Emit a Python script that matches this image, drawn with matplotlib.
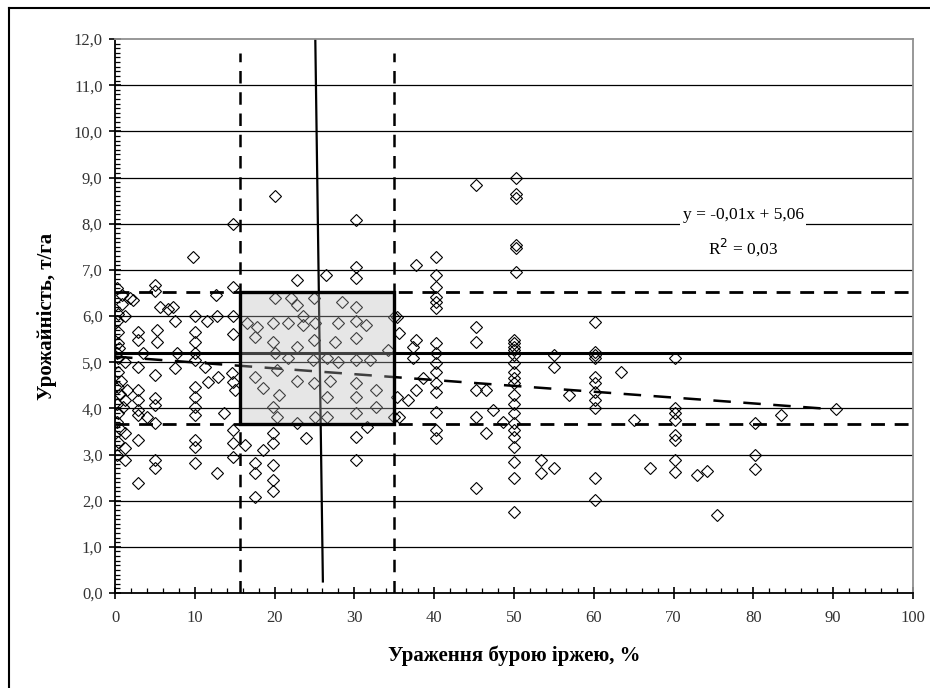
import matplotlib
matplotlib.use("Agg")
import matplotlib.pyplot as plt
from matplotlib.lines import Line2D
from matplotlib.patches import Rectangle
from matplotlib.ticker import MultipleLocator, FuncFormatter

# ---------------- data ----------------
# low infection (0..15 %)
x_low = [0.4, 0.9, 0.9, 1.9, 1.3, 0.4, 0.4, 0.4, 1.3, 0.4, 0.4, 1.5, 1.3, 0.4, 1.0,
         1.3, 0.4, 1.3, 1.3, 0.3, 0.6, 0.2, 0.3, 0.2, 0.5, 0.7, 0.3, 0.6, 0.2,
         2.9, 2.9, 2.9, 2.9, 2.9, 2.9, 4.0, 2.9, 2.9, 2.2, 2.9, 3.5,
         5.0, 5.0, 5.7, 5.3, 5.3, 5.0, 5.0, 5.0, 5.0, 5.0, 5.0,
         7.3, 7.5, 7.8, 7.5, 6.7,
         9.8, 10.0, 10.0, 10.0, 10.0, 10.0, 10.0, 10.0, 10.0, 10.0, 10.0, 10.0, 10.0, 11.3, 11.5,
         12.6, 12.8, 12.9, 11.7, 13.6, 12.8,
         14.8, 14.8, 14.8, 14.8, 14.7, 14.8, 15.0, 14.8, 14.8, 14.8, 16.3]
y_low = [6.05, 6.27, 6.45, 6.40, 6.00, 5.65, 5.41, 5.08, 5.00, 4.78, 4.46, 4.40, 4.18, 3.90, 4.03,
         3.46, 3.27, 3.14, 2.88, 5.20, 4.30, 3.70, 6.60, 5.90, 5.30, 4.60, 4.10, 3.55, 3.00,
         5.65, 5.48, 4.40, 4.18, 3.96, 3.85, 3.81, 3.31, 2.38, 6.35, 4.90, 5.20,
         6.67, 6.54, 6.20, 5.70, 5.43, 4.72, 4.22, 4.07, 3.68, 2.88, 2.70,
         6.20, 5.90, 5.19, 4.87, 6.15,
         7.27, 6.00, 5.65, 5.43, 5.19, 5.04, 4.46, 4.24, 4.03, 3.85, 3.31, 3.16, 2.81, 4.90, 5.90,
         6.45, 6.00, 4.68, 4.57, 3.90, 2.60,
         8.00, 6.62, 6.00, 5.60, 4.76, 4.57, 4.40, 3.53, 3.25, 2.95, 3.20]

# medium infection (15..35 %)
x_mid = [20.1, 30.2, 26.4, 30.2, 30.2, 22.8,
         20.1, 22.0, 24.9, 28.5, 30.2, 22.8, 23.5, 16.6, 17.8, 19.8, 21.7, 23.5, 25.1, 27.9,
         30.2, 31.4, 34.9, 17.6, 19.8, 22.8, 24.9, 27.6, 30.2, 20.1, 21.7, 24.8, 26.6, 28.0,
         30.2, 32.0, 34.2, 17.6, 20.3, 18.5, 20.5, 22.8, 24.9, 27.0, 26.6, 30.2, 30.2, 32.7,
         32.7, 19.8, 20.3, 22.8, 25.1, 26.6, 30.2, 31.6, 34.9,
         19.8, 19.8, 23.9, 30.2, 30.2, 17.6, 19.8, 17.6, 19.8, 19.8, 17.6, 18.5]
y_mid = [8.60, 8.07, 6.88, 7.06, 6.82, 6.77,
         6.40, 6.40, 6.40, 6.30, 6.20, 6.23, 6.00, 5.84, 5.76, 5.84, 5.84, 5.80, 5.84, 5.84,
         5.90, 5.80, 5.97, 5.55, 5.43, 5.33, 5.48, 5.43, 5.52, 5.19, 5.08, 5.04, 5.10, 5.00,
         5.04, 5.04, 5.26, 4.68, 4.83, 4.44, 4.29, 4.60, 4.54, 4.60, 4.24, 4.54, 4.24, 4.40,
         4.03, 4.03, 3.81, 3.68, 3.81, 3.81, 3.90, 3.60, 3.81,
         3.46, 3.25, 3.35, 3.38, 2.88, 2.81, 2.77, 2.60, 2.45, 2.20, 2.08, 3.10]

# high infection (> 35 %)
x_high = [45.2, 50.3, 50.3, 50.3, 50.3, 50.3, 50.3, 37.7, 40.2, 40.2, 40.2, 40.2, 40.2, 40.2,
          45.2, 45.2, 35.4, 35.6, 37.7, 37.3, 37.3, 40.2, 40.2, 40.2, 40.2, 40.2, 40.2,
          38.6, 37.7, 36.7, 35.4, 35.6, 40.2, 40.2, 40.2, 45.2, 46.5, 45.2, 46.5, 47.4, 48.6, 45.2,
          50.0, 50.0, 50.0, 50.0, 50.0, 50.0, 50.0, 50.0, 50.0, 50.0, 50.0, 50.0, 50.0, 50.0,
          50.0, 50.0, 50.0, 50.0, 50.0,
          55.0, 55.0, 56.9, 53.4, 53.4, 55.0,
          60.2, 60.2, 60.2, 60.2, 70.2, 63.4, 60.2, 60.2, 60.2, 60.2, 60.2, 65.1,
          70.2, 70.2, 70.2, 70.2, 70.2, 70.2, 70.2, 67.0, 72.9, 74.2, 75.4,
          80.2, 80.2, 80.2, 83.5, 90.3, 60.2, 60.2]
y_high = [8.83, 8.98, 8.65, 8.55, 7.53, 7.47, 6.95, 7.10, 7.27, 6.88, 6.62, 6.41, 6.30, 6.17,
          5.76, 5.43, 5.97, 5.63, 5.48, 5.33, 5.08, 5.41, 5.19, 4.98, 4.78, 4.54, 4.35,
          4.65, 4.40, 4.18, 4.24, 3.81, 3.92, 3.53, 3.35, 4.40, 4.40, 3.81, 3.46, 3.96, 3.70, 2.27,
          5.48, 5.41, 5.33, 5.26, 5.15, 4.98, 4.78, 4.65, 4.54, 4.29, 4.10, 3.90, 3.68, 3.53,
          3.38, 3.16, 2.84, 2.49, 1.75,
          5.15, 4.90, 4.29, 2.88, 2.60, 2.70,
          5.87, 5.22, 5.15, 5.08, 5.10, 4.78, 4.68, 4.54, 4.35, 4.18, 4.00, 3.74,
          4.00, 3.90, 3.74, 3.42, 3.31, 2.88, 2.62, 2.70, 2.55, 2.64, 1.69,
          3.68, 2.99, 2.68, 3.85, 3.98, 2.49, 2.01]

# reference levels
yield_mean = 5.2
yield_upper = 6.53
yield_lower = 3.66
rust_lower = 15.7
rust_upper = 35.0
rust_line_x = [25.1, 26.05]
rust_line_y = [12.0, 0.25]
trend_slope = -0.01267
trend_intercept = 5.12
trend_x_range = [0.0, 90.0]
trend_label = "y = -0,01x + 5,06"
r2_label = "R$^{2}$ = 0,03"
x_label = "Ураження бурою іржею, %"
y_label = "Урожайність, т/га"

# ---------------- plotting ----------------
plt.rcParams['font.family'] = ['Liberation Serif', 'DejaVu Serif']
fig = plt.figure(figsize=(9.3, 6.88), dpi=100)
ax = fig.add_axes([115/930, 1 - 593/688, (913-115)/930, (593-39)/688])

ax.set_xlim(0, 100)
ax.set_ylim(0, 12)

# horizontal gridlines
for g in range(1, 12):
    ax.axhline(g, color='black', lw=0.9, zorder=1)

xs = x_low + x_mid + x_high
ys = y_low + y_mid + y_high
ax.plot(xs, ys, linestyle='none', marker='D', markersize=6.5,
        markerfacecolor='none', markeredgecolor='black', markeredgewidth=0.8, zorder=3)

# reference lines
ax.axhline(yield_mean, color='black', lw=2.2, zorder=2)
ax.axhline(yield_upper, color='black', lw=2.0, ls=(0, (5, 3.5)), zorder=2)
ax.axhline(yield_lower, color='black', lw=2.0, ls=(0, (5, 3.5)), zorder=2)
ax.plot([rust_lower, rust_lower], [0, 11.7], color='black', lw=1.8, ls=(0, (5, 3.5)), zorder=2)
ax.plot([rust_upper, rust_upper], [0, 11.7], color='black', lw=1.8, ls=(0, (5, 3.5)), zorder=2)
ax.plot(rust_line_x, rust_line_y, color='black', lw=1.6, zorder=2)

# trend line
tx = trend_x_range
ty = [trend_slope * v + trend_intercept for v in tx]
ax.plot(tx, ty, color='black', lw=1.8, ls=(0, (7, 5)), zorder=2)

# central rectangle
ax.add_patch(Rectangle((rust_lower, yield_lower), rust_upper - rust_lower,
                       yield_upper - yield_lower, facecolor='#b8b8b8', alpha=0.35,
                       edgecolor='none', zorder=4))
ax.add_patch(Rectangle((rust_lower, yield_lower), rust_upper - rust_lower,
                       yield_upper - yield_lower, facecolor='none',
                       edgecolor='black', lw=2.4, zorder=5))

# trend equation
ax.text(78.7, 8.18, trend_label, ha='center', va='center', fontsize=12.5,
        bbox=dict(facecolor='white', edgecolor='none', pad=2), zorder=6)
ax.text(78.7, 7.5, r2_label, ha='center', va='center', fontsize=12.5, zorder=6)

# axes styling
for side in ['left', 'bottom']:
    ax.spines[side].set_linewidth(1.3)
    ax.spines[side].set_color('black')
for side in ['top', 'right']:
    ax.spines[side].set_linewidth(1.3)
    ax.spines[side].set_color('#909090')

ax.xaxis.set_major_locator(MultipleLocator(10))
ax.xaxis.set_minor_locator(MultipleLocator(2))
ax.yaxis.set_major_locator(MultipleLocator(1))
ax.yaxis.set_minor_locator(MultipleLocator(0.1))
ax.yaxis.set_major_formatter(FuncFormatter(lambda v, p: f"{v:.1f}".replace('.', ',')))
ax.xaxis.set_major_formatter(FuncFormatter(lambda v, p: f"{int(round(v))}"))
ax.tick_params(axis='both', which='major', direction='inout', length=8, width=1.2,
               labelsize=12, colors='black')
ax.tick_params(axis='both', which='minor', direction='in', length=3.5, width=0.9)
ax.tick_params(axis='x', which='major', pad=8)
ax.tick_params(axis='y', which='major', pad=5)
for lab in ax.get_xticklabels() + ax.get_yticklabels():
    lab.set_color('#333333')

ax.set_xlabel(x_label, fontsize=15, fontweight='bold', labelpad=14)
ax.set_ylabel(y_label, fontsize=15, fontweight='bold', labelpad=12)

# outer frame (cropped)
fig.add_artist(Line2D([9/930, 1.0], [1 - 8/688, 1 - 8/688], color='black', lw=1.5,
                      transform=fig.transFigure))
fig.add_artist(Line2D([9/930, 9/930], [0.0, 1 - 8/688], color='black', lw=1.5,
                      transform=fig.transFigure))

fig.savefig('out.png', dpi=100)
